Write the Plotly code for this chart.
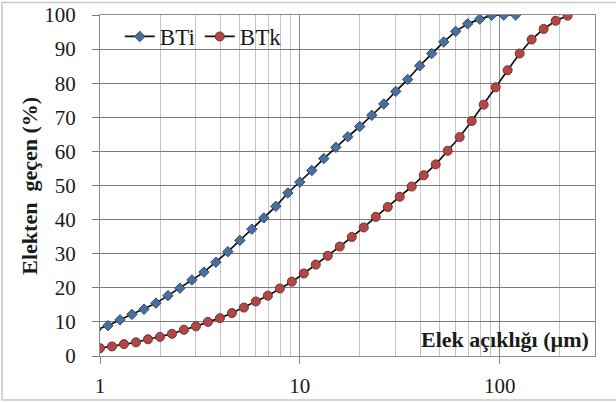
import plotly.graph_objects as go

# Sieve opening (µm) and cumulative passing (%)
bti_size = [0.955, 1.096, 1.259, 1.445, 1.660, 1.905, 2.188, 2.512, 2.884, 3.311, 3.802,
            4.365, 5.012, 5.754, 6.607, 7.586, 8.710, 10.00, 11.48, 13.18, 15.14,
            17.38, 19.95, 22.91, 26.30, 30.20, 34.67, 39.81, 45.71, 52.48, 60.26,
            69.18, 79.43, 91.20, 104.7, 120.2]
bti_pass = [7.7, 8.9, 10.6, 12.2, 13.7, 15.5, 17.7, 19.9, 22.3, 24.6, 27.5,
            30.6, 33.9, 37.2, 40.5, 43.9, 47.8, 51.0, 54.4, 57.9, 61.2,
            64.3, 67.3, 70.6, 73.9, 77.6, 81.1, 85.1, 88.7, 92.1, 95.2,
            97.4, 98.8, 99.9, 100.0, 100.0]

btk_size = [1.000, 1.148, 1.318, 1.514, 1.738, 1.995, 2.291, 2.630, 3.020, 3.467,
            3.981, 4.571, 5.248, 6.026, 6.918, 7.943, 9.120, 10.47, 12.02, 13.80,
            15.85, 18.20, 20.89, 23.99, 27.54, 31.62, 36.31, 41.69, 47.86, 54.95,
            63.10, 72.44, 83.18, 95.50, 109.6, 125.9, 144.5, 166.0, 190.6, 218.8]
btk_pass = [2.3, 2.8, 3.5, 4.0, 4.9, 5.6, 6.5, 7.7, 8.7, 10.0,
            11.1, 12.6, 14.2, 16.0, 17.7, 19.8, 21.8, 24.2, 26.8, 29.4,
            32.1, 34.9, 37.7, 40.8, 43.7, 46.7, 49.7, 53.0, 56.2, 60.2,
            64.2, 68.9, 73.7, 78.8, 83.8, 88.7, 92.8, 95.9, 98.3, 99.8]

x_major = [1, 10, 100]
x_major_text = ["1", "10", "100"]
x_minor = [2, 3, 4, 5, 6, 7, 8, 9, 20, 30, 40, 50, 60, 70, 80, 90, 200]
y_ticks = [0, 10, 20, 30, 40, 50, 60, 70, 80, 90, 100]

SERIF = "Liberation Serif"

fig = go.Figure()
fig.add_trace(go.Scatter(
    x=bti_size, y=bti_pass, name="BTi", mode="lines+markers",
    line=dict(color="#111111", width=1.7),
    marker=dict(symbol="diamond", size=8, color="#4A6F9C",
                line=dict(color="#2E4D73", width=1)),
))
fig.add_trace(go.Scatter(
    x=btk_size, y=btk_pass, name="BTk", mode="lines+markers",
    line=dict(color="#111111", width=1.7),
    marker=dict(symbol="circle", size=9, color="#B04848",
                line=dict(color="#7A2C2C", width=1)),
))

fig.update_layout(
    width=616, height=403,
    margin=dict(l=100, r=21, t=15, b=47, autoexpand=False),
    paper_bgcolor="white", plot_bgcolor="white",
    font=dict(family=SERIF, size=21, color="#1a1a1a"),
    showlegend=True,
    legend=dict(orientation="h", x=0.04, y=1.0, xanchor="left", yanchor="top",
                bgcolor="rgba(255,255,255,0)", font=dict(family=SERIF, size=23),
                itemwidth=30, tracegroupgap=0),
    xaxis=dict(
        type="log", range=[0, 2.4771], automargin=False,
        tickmode="array", tickvals=x_major, ticktext=x_major_text,
        showgrid=True, gridcolor="#8c8c8c", gridwidth=1,
        ticks="outside", ticklen=7, tickcolor="#8c8c8c",
        ticklabelstandoff=4,
        minor=dict(tickmode="array", tickvals=x_minor, showgrid=True,
                   gridcolor="#c4c4c4", gridwidth=1, ticks=""),
        showline=True, mirror=True, linecolor="#8c8c8c", linewidth=1,
        zeroline=False,
        tickfont=dict(family=SERIF, size=21, color="#1a1a1a"),
    ),
    yaxis=dict(
        range=[0, 100], tickmode="array", tickvals=y_ticks, automargin=False,
        showgrid=True, gridcolor="#7a7a7a", gridwidth=1,
        ticks="outside", ticklen=7, tickcolor="#7a7a7a",
        ticklabelstandoff=12,
        showline=True, mirror=True, linecolor="#8c8c8c", linewidth=1,
        zeroline=False,
        tickfont=dict(family=SERIF, size=21, color="#1a1a1a"),
    ),
    annotations=[
        dict(text="Elekten  geçen (%)", xref="paper", yref="paper",
             x=-0.143, y=0.5, xanchor="center", yanchor="middle",
             textangle=-90, showarrow=False,
             font=dict(family=SERIF, size=22, color="#1a1a1a", weight="bold")),
        dict(text="Elek açıklığı (µm)", xref="paper", yref="paper",
             x=0.992, y=0.048, xanchor="right", yanchor="middle",
             showarrow=False, bgcolor="rgba(255,255,255,0)",
             font=dict(family=SERIF, size=22, color="#1a1a1a", weight="bold")),
    ],
    shapes=[
        dict(type="rect", xref="paper", yref="paper",
             x0=-0.198, x1=1.2, y0=-0.129, y1=1.037,
             line=dict(color="#c8c8c8", width=1.5), layer="below"),
    ],
)

fig.write_html("out.html",
               config={"displayModeBar": False},
               post_script="document.body.style.margin='0px';"
                           "document.body.style.padding='0px';")
